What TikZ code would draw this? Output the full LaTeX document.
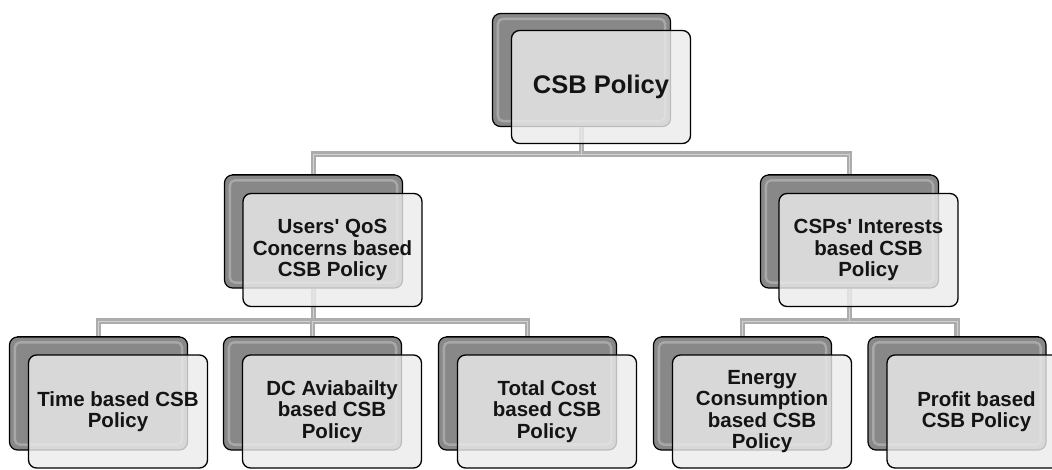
\documentclass[tikz,border=0pt]{standalone}
\usepackage{fontspec}
\setmainfont{Liberation Sans}
\begin{document}
\begin{tikzpicture}[x=1pt,y=-1pt,
  backbox/.style={draw=black, line width=1.2pt, rounded corners=8pt,
    fill={rgb,255:red,136;green,136;blue,136},
    minimum width=178pt, minimum height=113pt, inner sep=0pt},
  frontbox/.style={draw=black, line width=1.3pt, rounded corners=8pt,
    fill={rgb,255:red,236;green,236;blue,236}, fill opacity=0.8, text opacity=1,
    minimum width=179pt, minimum height=113pt, inner sep=2pt,
    align=center, font=\bfseries\fontsize{20.5}{21.2}\selectfont, text=black!92},
  conn/.style={draw={rgb,255:red,172;green,172;blue,172}, line width=2.6pt,
    double={rgb,255:red,210;green,210;blue,210}, double distance=0.6pt},
  bevel/.style={draw={rgb,255:red,168;green,168;blue,168}, line width=2.4pt, rounded corners=5pt}
]
\clip (0,0) rectangle (1052,469);
\fill[white] (0,0) rectangle (1052,469);

% back panels
\node[backbox] (topB) at (581.5,70) {};
\node[backbox] (uB)   at (313.5,231.5) {};
\node[backbox] (cB)   at (849.5,231.5) {};
\node[backbox] (tB)   at (98.5,393.5) {};
\node[backbox] (dB)   at (312.5,393.5) {};
\node[backbox] (oB)   at (527.5,393.5) {};
\node[backbox] (eB)   at (742.5,393.5) {};
\node[backbox] (pB)   at (957,393.5) {};

% bus junctions
\coordinate (bus0) at (581.5,154);
\coordinate (bus1) at (313.5,321);
\coordinate (bus2) at (849.5,321);

% bevel highlights on the back panels
\foreach \n in {topB,uB,cB,tB,dB,oB,eB,pB}{
  \draw[bevel] ([shift={(6pt,-6pt)}]\n.north west) rectangle ([shift={(-6pt,6pt)}]\n.south east);
}

% connectors
\draw[conn] (topB.south) -- (bus0) -| (uB.north);
\draw[conn] (bus0) -| (cB.north);
\draw[conn] (uB.south) -- (bus1) -| (tB.north);
\draw[conn] (bus1) -| (dB.north);
\draw[conn] (bus1) -| (oB.north);
\draw[conn] (cB.south) -- (bus2) -| (eB.north);
\draw[conn] (bus2) -| (pB.north);

% re-stroke the panel tops over the connector ends
\foreach \n in {uB,cB,tB,dB,oB,eB,pB}{
  \draw[black, line width=1.2pt] ([xshift=8pt]\n.north west) -- ([xshift=-8pt]\n.north east);
}

% front panels with labels
\node[frontbox, font=\bfseries\fontsize{25.5}{28}\selectfont] (top) at (601,87) {CSB Policy};
\node[frontbox] (u) at (332.5,250) {Users\textquotesingle{} QoS\\Concerns based\\CSB Policy};
\node[frontbox] (c) at (868.5,250) {CSPs\textquotesingle{} Interests\\based CSB\\Policy};
\node[frontbox] (t) at (118,411.5) {Time based CSB\\Policy};
\node[frontbox] (d) at (332,411.5) {DC Aviabailty\\based CSB\\Policy};
\node[frontbox] (o) at (547,411.5) {Total Cost\\based CSB\\Policy};
\node[frontbox] (e) at (762,411.5) {Energy\\Consumption\\based CSB\\Policy};
\node[frontbox] (p) at (976.5,411.5) {Profit based\\CSB Policy};
\end{tikzpicture}
\end{document}
